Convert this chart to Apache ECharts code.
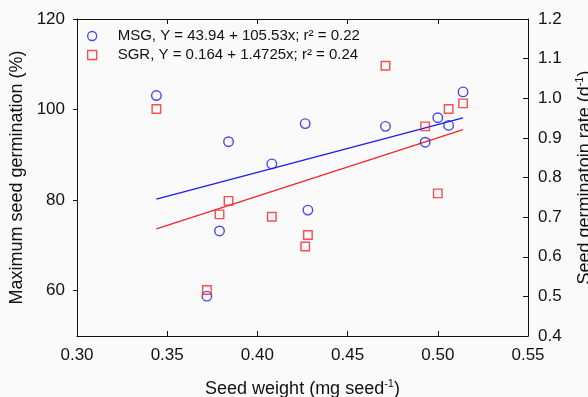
<!DOCTYPE html>
<html>
<head>
<meta charset="utf-8">
<script src="https://cdn.jsdelivr.net/npm/echarts@6/dist/echarts.min.js"></script>
<style>
  html, body { margin: 0; padding: 0; background: #fafafa; }
  #chart { width: 588px; height: 397px; }
</style>
</head>
<body>
<div id="chart"></div>
<script>
// Seed weight of each sample (mg seed^-1)
const seedWeight = [0.344, 0.372, 0.379, 0.384, 0.408, 0.4265, 0.428, 0.471, 0.493, 0.500, 0.506, 0.514];
// Maximum seed germination, MSG (%)
const msgValues = [103.1, 58.8, 73.2, 92.9, 88.0, 96.9, 77.8, 96.3, 92.8, 98.2, 96.5, 103.9];
// Seed germination rate, SGR (d^-1)
const sgrValues = [0.973, 0.516, 0.707, 0.741, 0.701, 0.626, 0.655, 1.082, 0.929, 0.760, 0.973, 0.987];

// Linear fits: [intercept, slope]
const msgFit = [43.94, 105.53];
const sgrFit = [0.164, 1.4725];

const seriesNames = ['MSG', 'SGR'];
const legendLabels = [
  'MSG, Y = 43.94 + 105.53x; r\u00B2 = 0.22',
  'SGR, Y = 0.164 + 1.4725x; r\u00B2 = 0.24'
];

// Axis ticks
const xTicks = [0.30, 0.35, 0.40, 0.45, 0.50, 0.55];
const leftTicks = [60, 80, 100, 120];
const rightTicks = [0.4, 0.5, 0.6, 0.7, 0.8, 0.9, 1.0, 1.1, 1.2];

const BLUE = '#1c1ce8';
const RED = '#f42424';
const INK = '#111';

const xMin = Math.min(...seedWeight);
const xMax = Math.max(...seedWeight);
const fitLine = (fit) => [[xMin, fit[0] + fit[1] * xMin], [xMax, fit[0] + fit[1] * xMax]];

const chart = echarts.init(document.getElementById('chart'), null, { renderer: 'canvas' });

const axisFont = { fontFamily: 'Liberation Sans, Arial, sans-serif', color: INK };

chart.setOption({
  backgroundColor: '#fafafa',
  animation: false,
  grid: { left: 77, right: 60, top: 19, bottom: 61, outerBoundsMode: 'none', containLabel: false },
  legend: {
    data: [
      { name: seriesNames[0], icon: 'circle' },
      { name: seriesNames[1], icon: 'rect' }
    ],
    orient: 'vertical',
    left: 87,
    top: 28,
    padding: 0,
    itemWidth: 9,
    itemHeight: 9,
    itemGap: 3,
    itemStyle: { color: 'rgba(0,0,0,0)', borderWidth: 1.3 },
    formatter: (name) => legendLabels[seriesNames.indexOf(name)],
    textStyle: Object.assign({ fontSize: 15, lineHeight: 16, padding: [0, 0, 0, 16] }, axisFont)
  },
  xAxis: [
    {
      type: 'value',
      min: xTicks[0],
      max: xTicks[xTicks.length - 1],
      interval: 0.05,
      position: 'bottom',
      name: '{t|Seed weight (mg seed}{s|-1}{t|)}',
      nameLocation: 'middle',
      nameGap: 42,
      nameTextStyle: {
        rich: {
          t: Object.assign({ fontSize: 18, lineHeight: 20, verticalAlign: 'bottom' }, axisFont),
          s: Object.assign({ fontSize: 11, lineHeight: 20, verticalAlign: 'top' }, axisFont)
        }
      },
      axisLine: { lineStyle: { color: INK, width: 1 } },
      axisTick: { inside: true, length: 5, lineStyle: { color: INK } },
      axisLabel: Object.assign({ fontSize: 17, margin: 11, formatter: (v) => v.toFixed(2) }, axisFont),
      splitLine: { show: false }
    },
    {
      type: 'value',
      min: xTicks[0],
      max: xTicks[xTicks.length - 1],
      interval: 0.05,
      position: 'top',
      axisLine: { lineStyle: { color: INK, width: 1 } },
      axisTick: { inside: true, length: 5, lineStyle: { color: INK } },
      axisLabel: { show: false },
      splitLine: { show: false }
    }
  ],
  yAxis: [
    {
      type: 'value',
      min: 50,
      max: 120,
      position: 'left',
      name: 'Maximum seed germination (%)',
      nameLocation: 'middle',
      nameRotate: 90,
      nameGap: 44,
      nameTextStyle: Object.assign({ fontSize: 18 }, axisFont),
      axisLine: { show: true, lineStyle: { color: INK, width: 1 } },
      axisTick: { show: true, inside: false, length: 4, customValues: leftTicks, lineStyle: { color: INK } },
      axisLabel: Object.assign({ fontSize: 17, margin: 12, customValues: leftTicks }, axisFont),
      splitLine: { show: false }
    },
    {
      type: 'value',
      min: rightTicks[0],
      max: rightTicks[rightTicks.length - 1],
      interval: 0.1,
      position: 'right',
      name: '{t|Seed germinatoin rate (d}{s|-1}{t|)}',
      nameLocation: 'middle',
      nameRotate: 90,
      nameGap: 46,
      nameTextStyle: {
        rich: {
          t: Object.assign({ fontSize: 18, lineHeight: 20, verticalAlign: 'bottom' }, axisFont),
          s: Object.assign({ fontSize: 11, lineHeight: 20, verticalAlign: 'top' }, axisFont)
        }
      },
      axisLine: { show: true, lineStyle: { color: INK, width: 1 } },
      axisTick: { show: true, inside: true, length: 5, lineStyle: { color: INK } },
      axisLabel: Object.assign({ fontSize: 17, margin: 10, formatter: (v) => v.toFixed(1) }, axisFont),
      splitLine: { show: false }
    }
  ],
  series: [
    {
      name: 'MSG fit',
      type: 'line',
      yAxisIndex: 0,
      data: fitLine(msgFit),
      showSymbol: false,
      symbol: 'none',
      lineStyle: { color: BLUE, width: 1.3 },
      z: 1
    },
    {
      name: 'SGR fit',
      type: 'line',
      yAxisIndex: 1,
      data: fitLine(sgrFit),
      showSymbol: false,
      symbol: 'none',
      lineStyle: { color: RED, width: 1.3 },
      z: 1
    },
    {
      name: 'MSG',
      type: 'scatter',
      yAxisIndex: 0,
      symbol: 'circle',
      symbolSize: 9.5,
      itemStyle: { color: 'rgba(0,0,0,0)', borderColor: BLUE, borderWidth: 1.4 },
      data: seedWeight.map((x, i) => [x, msgValues[i]]),
      z: 3
    },
    {
      name: 'SGR',
      type: 'scatter',
      yAxisIndex: 1,
      symbol: 'rect',
      symbolSize: 8.5,
      itemStyle: { color: 'rgba(0,0,0,0)', borderColor: RED, borderWidth: 1.4 },
      data: seedWeight.map((x, i) => [x, sgrValues[i]]),
      z: 4
    }
  ]
});
</script>
</body>
</html>
